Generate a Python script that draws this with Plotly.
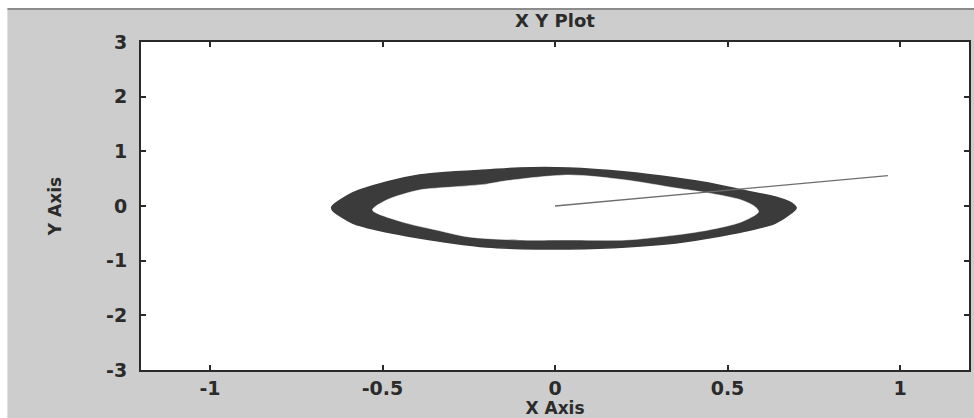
import plotly.graph_objects as go

# Outer edge of the phase-plane band (clockwise from the left tip)
outer_x = [-0.647, -0.587, -0.488, -0.393, -0.298, -0.199, -0.104, 0.040, 0.205, 0.350,
           0.445, 0.540, 0.639, 0.685, 0.699, 0.685, 0.639, 0.540, 0.445, 0.350,
           0.205, 0.040, -0.055, -0.199, -0.298, -0.393, -0.488, -0.587, -0.645]
outer_y = [-0.018, 0.238, 0.439, 0.567, 0.622, 0.658, 0.695, 0.695, 0.622, 0.512,
           0.421, 0.293, 0.165, 0.055, -0.037, -0.128, -0.311, -0.476, -0.585, -0.677,
           -0.750, -0.786, -0.786, -0.750, -0.677, -0.585, -0.476, -0.311, -0.073]

# Inner edge of the band (same direction, starting at the inner left tip)
inner_x = [-0.529, -0.488, -0.393, -0.298, -0.199, -0.142, 0.040, 0.205, 0.350, 0.445,
           0.540, 0.581, 0.590, 0.540, 0.445, 0.350, 0.205, 0.040, -0.104, -0.249,
           -0.344, -0.442]
inner_y = [-0.073, 0.110, 0.293, 0.347, 0.400, 0.460, 0.567, 0.476, 0.329, 0.238,
           0.110, -0.018, -0.110, -0.293, -0.439, -0.530, -0.622, -0.622, -0.622, -0.567,
           -0.439, -0.293]

# Straight transient segment from the origin
seg_x = [0.0, 0.965]
seg_y = [0.0, 0.555]

x_ticks = [-1, -0.5, 0, 0.5, 1]
x_tick_text = ["-1", "-0.5", "0", "0.5", "1"]
y_ticks = [-3, -2, -1, 0, 1, 2, 3]
y_tick_text = ["-3", "-2", "-1", "0", "1", "2", "3"]

band_color = "#3b3b3b"
text_color = "#2b2b2b"
font_family = "DejaVu Sans, Verdana, sans-serif"

fig = go.Figure()
# band = filled outer loop with the inner loop punched out in white
fig.add_trace(go.Scatter(
    x=outer_x + [outer_x[0]], y=outer_y + [outer_y[0]], mode="lines", fill="toself",
    fillcolor=band_color, line=dict(color=band_color, width=1.5, shape="spline", smoothing=0.8),
    hoverinfo="skip", showlegend=False,
))
fig.add_trace(go.Scatter(
    x=inner_x + [inner_x[0]], y=inner_y + [inner_y[0]], mode="lines", fill="toself",
    fillcolor="white", line=dict(color="white", width=0.5, shape="spline", smoothing=0.8),
    hoverinfo="skip", showlegend=False,
))
fig.add_trace(go.Scatter(
    x=seg_x, y=seg_y, mode="lines",
    line=dict(color="#6e6e6e", width=1.3),
    showlegend=False,
))

axis_common = dict(
    showgrid=False, zeroline=False, showline=True, mirror="ticks",
    linecolor="#2a2a2a", linewidth=2, ticks="inside", ticklen=5,
    tickcolor="#2a2a2a", tickwidth=1.5,
    tickfont=dict(family=font_family, size=19, color=text_color, weight="bold"),
)

fig.update_layout(
    width=974, height=418,
    margin=dict(l=141, r=3, t=42, b=48),
    paper_bgcolor="white", plot_bgcolor="white",
    title=dict(text="X Y Plot", x=0.5, xref="paper", y=0.95, yref="container",
               yanchor="middle",
               font=dict(family=font_family, size=18, color=text_color, weight="bold")),
    xaxis=dict(range=[-1.2, 1.2], tickvals=x_ticks, ticktext=x_tick_text,
               title=dict(text="X Axis", standoff=0,
                          font=dict(family=font_family, size=17, color=text_color,
                                    weight="bold")),
               **axis_common),
    yaxis=dict(range=[-3, 3], tickvals=y_ticks, ticktext=y_tick_text,
               ticklabelstandoff=8,
               title=dict(text="Y Axis", standoff=40,
                          font=dict(family=font_family, size=17, color=text_color,
                                    weight="bold")),
               **axis_common),
    shapes=[
        # grey figure panel behind the axes
        dict(type="rect", xref="paper", yref="paper", x0=-0.1614, x1=1.01,
             y0=-0.2, y1=1.1006, fillcolor="#cdcdcd", line=dict(width=0),
             layer="below"),
        dict(type="line", xref="paper", yref="paper", x0=-0.1614, x1=1.01,
             y0=1.1006, y1=1.1006, line=dict(color="#8c8c8c", width=2),
             layer="below"),
        # white axes area
        dict(type="rect", xref="paper", yref="paper", x0=0, x1=1, y0=0, y1=1,
             fillcolor="white", line=dict(width=0), layer="below"),
    ],
)

fig.write_html("out.html")
